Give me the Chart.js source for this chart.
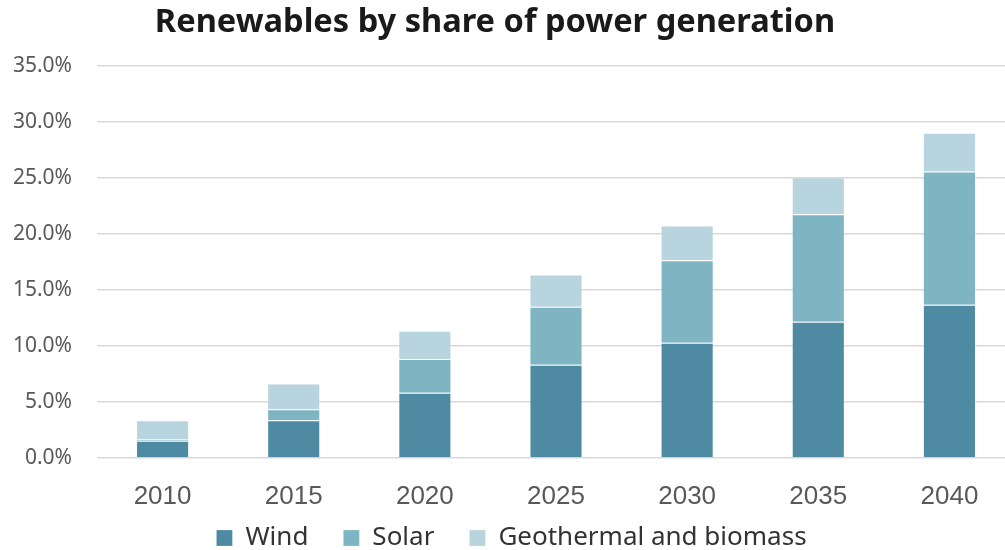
<!DOCTYPE html>
<html><head><meta charset="utf-8">
<script src="https://cdn.jsdelivr.net/npm/chart.js@4/dist/chart.umd.min.js"></script>
<style>html,body{margin:0;padding:0;background:#fff;overflow:hidden}#wrap{width:1015px;height:550px;position:relative}</style>
</head><body><div id="wrap"><canvas id="c"></canvas></div>
<script>
const categories = ["2010","2015","2020","2025","2030","2035","2040"];
const wind = [1.55, 3.36, 5.83, 8.33, 10.29, 12.16, 13.68];
const solar = [0.1, 1.0, 3.0, 5.17, 7.37, 9.6, 11.89];
const geothermal = [1.72, 2.29, 2.53, 2.88, 3.09, 3.3, 3.47];
const yTicks = [0,5,10,15,20,25,30,35];
const titleText = 'Renewables by share of power generation';

const font = "'Noto Sans', 'Open Sans', sans-serif";
const titlePlugin = {
  id: 'offTitle',
  afterDraw(chart) {
    const ctx = chart.ctx;
    ctx.save();
    ctx.font = "bold 32.6px " + font;
    ctx.fillStyle = '#1a1a1a';
    ctx.textAlign = 'center';
    ctx.textBaseline = 'middle';
    ctx.fillText(titleText, 495, 23);
    ctx.restore();
  }
};
const legendFit = {
  id: 'legendFit',
  beforeInit(chart) {
    const lg = chart.legend;
    if (!lg) return;
    const orig = lg.fit;
    lg.fit = function () { orig.call(this); this.height = 44; };
  },
  afterLayout(chart) {
    if (chart.legend) chart.legend.top -= 16;
  }
};
const mk = (label, data, color) => ({label, data, backgroundColor: color, borderColor: 'rgba(255,255,255,0.2)', borderWidth: 1, categoryPercentage: 1, barPercentage: 0.405});
new Chart(document.getElementById('c'), {
  type: 'bar',
  data: { labels: categories, datasets: [
    mk('Wind', wind, '#4E8BA3'),
    mk('Solar', solar, '#7FB4C2'),
    mk('Geothermal and biomass', geothermal, '#B8D4DE')
  ]},
  plugins: [titlePlugin, legendFit],
  options: {
    responsive: true, maintainAspectRatio: false, animation: false,
    layout: { padding: { left: 8, right: 0, top: 66, bottom: 0 } },
    plugins: {
      title: { display: false },
      legend: { position: 'bottom', labels: { color: '#333', font: { family: font, size: 26 }, boxWidth: 16, boxHeight: 16, padding: 35 } },
      tooltip: { enabled: false }
    },
    scales: {
      x: { stacked: true, grid: { display: false }, border: { display: false },
        afterFit: ax => { ax.height = 48; },
        ticks: { color: '#595959', font: { family: "'Liberation Sans', Arial, sans-serif", size: 26 }, padding: 15 } },
      y: { stacked: true, min: 0, max: 35, afterBuildTicks: ax => { ax.ticks = yTicks.map(v => ({value: v})); },
        afterFit: ax => { ax.width = 89; },
        grid: { color: '#d9d9d9', lineWidth: 1.5, drawTicks: false }, border: { display: false },
        ticks: { color: '#595959', font: { family: font, size: 21 }, padding: 25, callback: v => v.toFixed(1) + '%' } }
    }
  }
});
</script></body></html>
